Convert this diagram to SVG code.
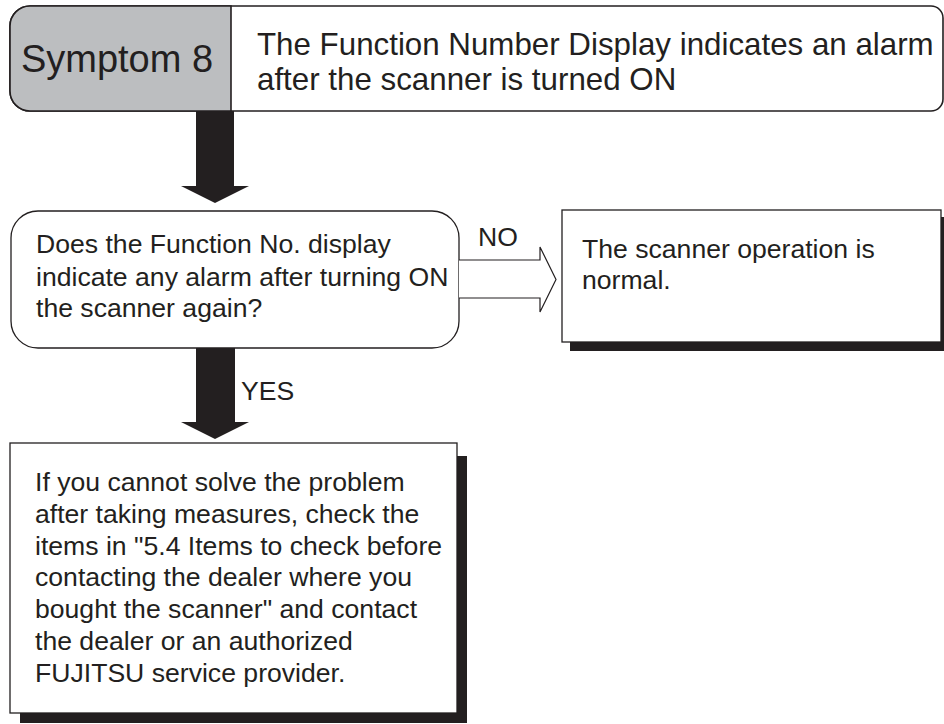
<svg xmlns="http://www.w3.org/2000/svg" width="944" height="724" viewBox="0 0 944 724">
<style>
text{font-family:"Liberation Sans",Arial,sans-serif;fill:#231f20}
.t26{font-size:26.6px}
.box{fill:#fff;stroke:#231f20;stroke-width:1.3}
.shadow{fill:#231f20}
.solid{fill:#231f20}
</style>
<rect width="944" height="724" fill="#fff"/>
<g id="header">
<path d="M30,6 H931 A12,12 0 0 1 943,18 V99 A12,12 0 0 1 931,111 H30 A20,20 0 0 1 10,91 V26 A20,20 0 0 1 30,6 Z" fill="#fff" stroke="#231f20" stroke-width="1.6"/>
<path d="M231,6 H30 A20,20 0 0 0 10,26 V91 A20,20 0 0 0 30,111 H231 Z" fill="#bcbec0" stroke="#231f20" stroke-width="1.6"/>
<text x="117" y="72" text-anchor="middle" style="font-size:38px">Symptom 8</text>
<text x="257" y="55" style="font-size:31.3px">The Function Number Display indicates an alarm</text>
<text x="257" y="90" style="font-size:31.3px">after the scanner is turned ON</text>
</g>
<g id="decision">
<rect class="box" x="11" y="211" width="448" height="137" rx="27" ry="27"/>
<text class="t26" x="36" y="253">Does the Function No. display</text>
<text class="t26" x="36" y="285.5">indicate any alarm after turning ON</text>
<text class="t26" x="36" y="317">the scanner again?</text>
</g>
<g id="normal">
<rect class="shadow" x="570" y="217" width="380" height="134"/>
<rect class="box" x="562" y="210" width="379" height="132"/>
<text class="t26" x="582" y="258">The scanner operation is</text>
<text class="t26" x="582" y="289">normal.</text>
</g>
<g id="contact">
<rect class="shadow" x="20" y="456" width="447" height="267"/>
<rect class="box" x="10" y="443" width="447" height="270"/>
<text class="t26" x="35" y="491">If you cannot solve the problem</text>
<text class="t26" x="35" y="522.8">after taking measures, check the</text>
<text class="t26" x="35" y="554.6">items in "5.4 Items to check before</text>
<text class="t26" x="35" y="586.4">contacting the dealer where you</text>
<text class="t26" x="35" y="618.2">bought the scanner" and contact</text>
<text class="t26" x="35" y="650">the dealer or an authorized</text>
<text class="t26" x="35" y="681.8">FUJITSU service provider.</text>
</g>
<g id="connectors">
<path class="solid" d="M196,111 H234 V186 H249 L215,203 L181,186 H196 Z"/>
<path class="solid" d="M196,348 H235 V422 H249 L215,439 L181,422 H196 Z"/>
<path d="M459,260 H540 V247 L556,279.5 L540,312 V298 H459" fill="#fff" stroke="#231f20" stroke-width="1.2"/>
<text class="t26" x="478" y="246">NO</text>
<text class="t26" x="241" y="400">YES</text>
</g>
</svg>
